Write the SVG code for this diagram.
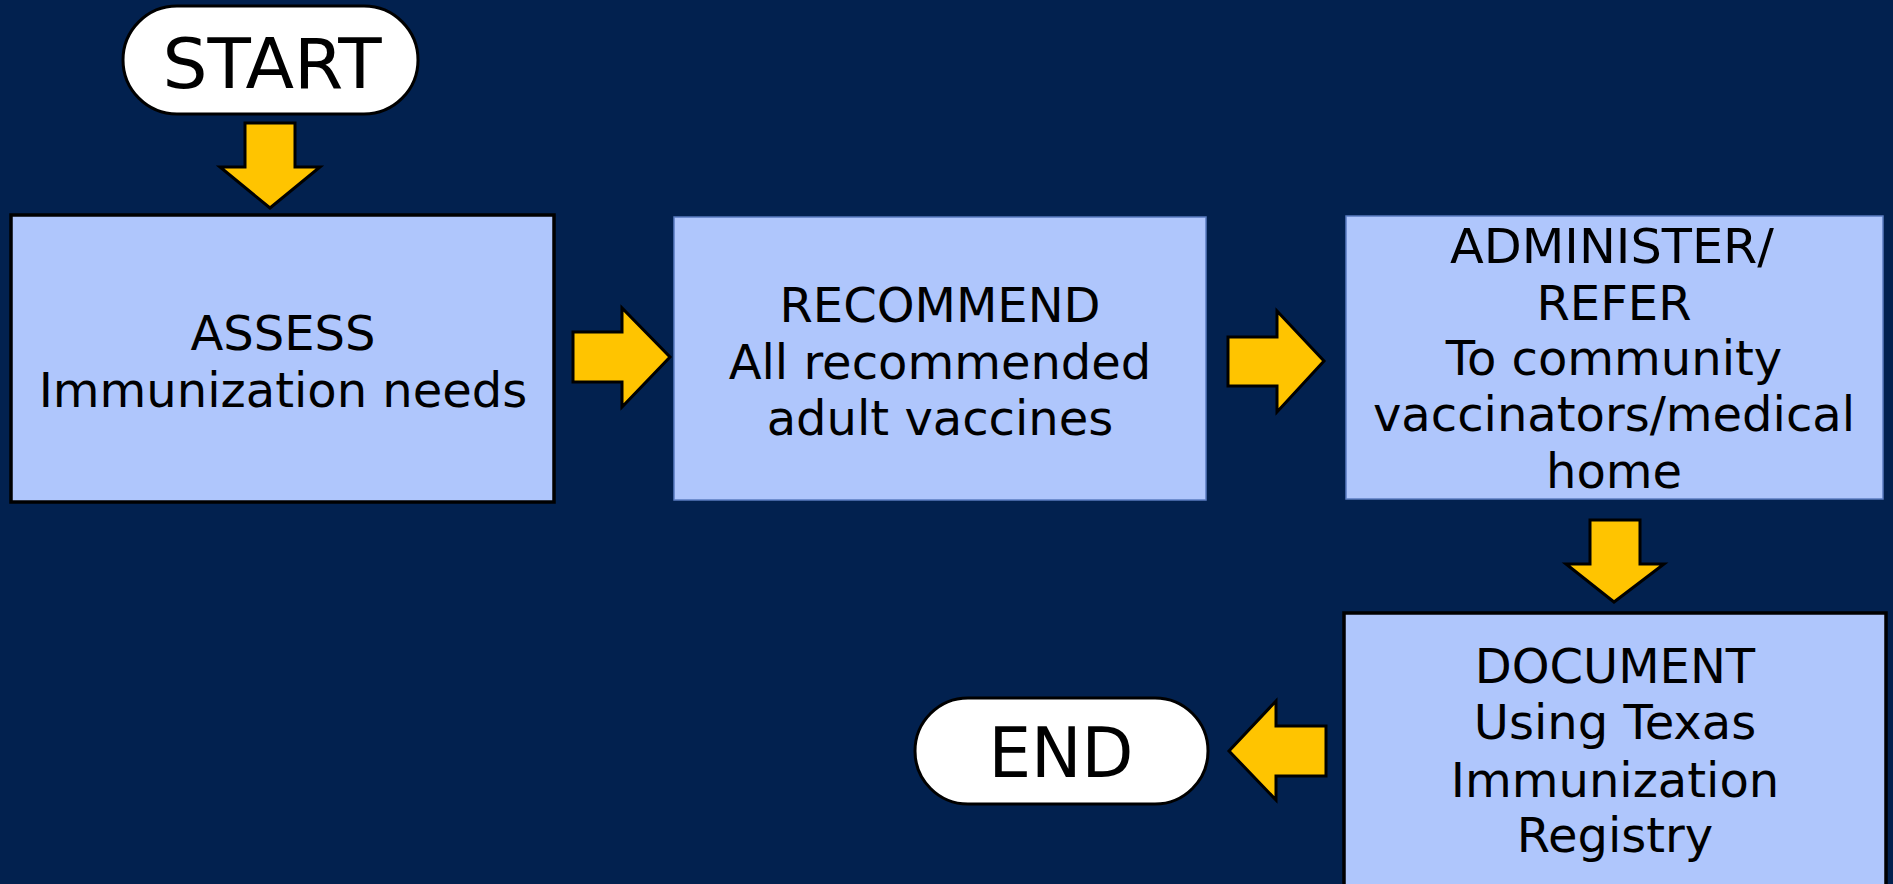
<svg xmlns="http://www.w3.org/2000/svg" width="1893" height="884" viewBox="0 0 1893 884">
<style>
.bg{fill:#02214F}
.box{fill:#AFC6FC}
.thin{stroke:#5A7BC0;stroke-width:1.5}
.thick{stroke:#000;stroke-width:3.5}
.pill{fill:#FFFFFF;stroke:#000;stroke-width:3}
.arrow{fill:#FFC400;stroke:#000;stroke-width:3;stroke-linejoin:miter}
text{font-family:"DejaVu Sans","Verdana",sans-serif;fill:#000;text-anchor:middle}
.t{font-size:48px}
.big{font-size:70px}
</style>
<rect class="bg" x="0" y="0" width="1893" height="884"/>
<g id="connectors">
<polygon class="arrow" points="245,123 295,123 295,167 320,167 270,208 220,167 245,167"/>
<polygon class="arrow" points="573,332 622,332 622,308 670,357 622,407 622,382 573,382"/>
<polygon class="arrow" points="1228,337 1277,337 1277,311 1324,361 1277,412 1277,386 1228,386"/>
<polygon class="arrow" points="1590,520 1640,520 1640,564 1664,564 1614,602 1566,564 1590,564"/>
<polygon class="arrow" points="1326,726 1276,726 1276,701 1229,751 1276,800 1276,776 1326,776"/>
</g>
<g id="start">
<rect class="pill" x="123" y="6" width="295" height="108" rx="54" ry="54"/>
<text class="big" x="272" y="88" textLength="219" lengthAdjust="spacingAndGlyphs">START</text>
</g>
<g id="assess">
<rect class="box thick" x="11" y="215" width="543" height="287"/>
<text class="t" x="283" y="350">ASSESS</text>
<text class="t" x="283" y="407">Immunization needs</text>
</g>
<g id="recommend">
<rect class="box thin" x="674" y="217" width="532" height="283"/>
<text class="t" x="940" y="322">RECOMMEND</text>
<text class="t" x="940" y="379">All recommended</text>
<text class="t" x="940" y="435">adult vaccines</text>
</g>
<g id="administer">
<rect class="box thin" x="1346" y="216" width="537" height="283"/>
<text class="t" x="1612" y="263" textLength="324" lengthAdjust="spacingAndGlyphs">ADMINISTER/</text>
<text class="t" x="1614" y="320">REFER</text>
<text class="t" x="1614" y="375">To community</text>
<text class="t" x="1614" y="431">vaccinators/medical</text>
<text class="t" x="1614" y="488">home</text>
</g>
<g id="document">
<rect class="box thick" x="1344" y="613" width="542" height="290"/>
<text class="t" x="1615" y="683">DOCUMENT</text>
<text class="t" x="1615" y="739">Using Texas</text>
<text class="t" x="1615" y="797">Immunization</text>
<text class="t" x="1615" y="852">Registry</text>
</g>
<g id="end">
<rect class="pill" x="915" y="698" width="293" height="106" rx="53" ry="53"/>
<text class="big" x="1061" y="777" textLength="145" lengthAdjust="spacingAndGlyphs">END</text>
</g>
</svg>
